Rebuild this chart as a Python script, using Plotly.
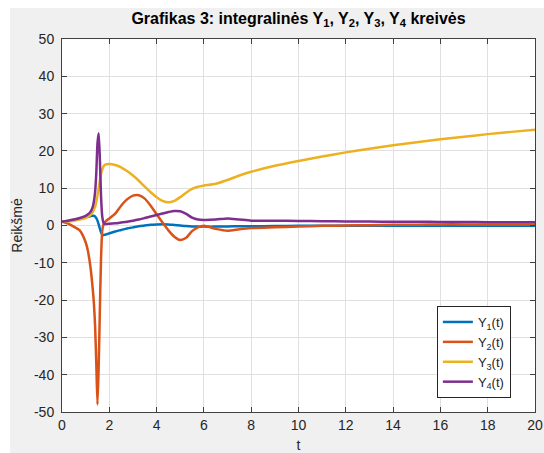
import plotly.graph_objects as go

# Simulation time points (denser around the transient near t = 1.5)
t = [0, 0.25, 0.5, 0.75, 1.0, 1.1, 1.2, 1.3, 1.35, 1.4, 1.45, 1.5, 1.55, 1.6,
     1.65, 1.7, 1.75, 1.8, 1.9, 2.0, 2.25, 2.5, 2.75, 3.0, 3.25, 3.5, 3.75,
     4.0, 4.25, 4.5, 4.75, 5.0, 5.25, 5.5, 5.75, 6.0, 6.5, 7.0, 7.5, 8, 9, 10,
     11, 12, 13, 14, 15, 16, 17, 18, 19, 20]

y1 = [1.0, 1.2, 1.5, 1.8, 2.2, 2.4, 2.5, 2.6, 2.6, 2.4, 2.0, 1.3, 0.3, -0.8,
      -1.8, -2.4, -2.6, -2.5, -2.3, -2.1, -1.6, -1.2, -0.8, -0.5, -0.2, 0.0, 0.2,
      0.3, 0.35, 0.3, 0.15, 0.0, -0.15, -0.25, -0.3, -0.3, -0.3, -0.25, -0.2, -0.2, -0.15, -0.1,
      -0.1, -0.1, -0.1, -0.1, -0.1, -0.1, -0.1, -0.1, -0.1, -0.1]

y2 = [1.0, 0.5, -0.3, -1.3, -4.5, -7.0, -11.0, -17.0, -21.0, -27.0, -37.0, -48.0, -38.0, -23.0,
      -9.0, -1.5, 0.2, 0.8, 1.4, 1.9, 3.2, 5.3, 7.0, 8.0, 8.1, 7.2, 5.3,
      3.0, 0.8, -1.3, -3.0, -3.9, -3.3, -1.5, -0.5, -0.1, -0.9, -1.4, -1.0, -0.7, -0.5, -0.3,
      -0.1, 0.0, 0.1, 0.2, 0.2, 0.3, 0.3, 0.3, 0.3, 0.3]

y3 = [1.0, 1.1, 1.3, 1.6, 2.0, 2.4, 2.8, 3.6, 4.3, 5.0, 6.3, 8.0, 10.0, 12.0,
      13.8, 15.0, 15.8, 16.2, 16.4, 16.5, 16.2, 15.6, 14.6, 13.4, 12.0, 10.4, 8.9,
      7.6, 6.6, 6.2, 6.6, 7.6, 8.8, 9.8, 10.4, 10.7, 11.2, 12.2, 13.4, 14.4, 16.0, 17.3,
      18.5, 19.6, 20.6, 21.5, 22.3, 23.1, 23.8, 24.5, 25.1, 25.7]

y4 = [1.0, 1.3, 1.6, 2.0, 2.6, 3.0, 3.6, 5.0, 6.5, 9.0, 14.0, 22.0, 24.7, 18.0,
      8.0, 2.5, 0.8, 0.4, 0.4, 0.5, 0.6, 0.8, 1.0, 1.3, 1.6, 2.0, 2.4,
      2.8, 3.2, 3.6, 3.9, 3.8, 3.1, 2.1, 1.6, 1.5, 1.6, 1.9, 1.6, 1.3, 1.3, 1.2,
      1.15, 1.1, 1.05, 1.0, 1.0, 0.95, 0.95, 0.9, 0.9, 0.9]

series_names = ["Y<sub>1</sub>(t)", "Y<sub>2</sub>(t)", "Y<sub>3</sub>(t)", "Y<sub>4</sub>(t)"]
series_colors = ["#0072BD", "#D95319", "#EDB120", "#7E2F8E"]

x_ticks = list(range(0, 21, 2))
x_tick_text = [str(v) for v in x_ticks]
y_ticks = list(range(-50, 51, 10))
y_tick_text = [str(v) for v in y_ticks]  # plain hyphen minus signs

font_family = "Liberation Sans, Arial, sans-serif"
axis_color = "#404040"
text_color = "#262626"

fig = go.Figure()
for name, color, ys in zip(series_names, series_colors, [y1, y2, y3, y4]):
    fig.add_trace(go.Scatter(
        x=t, y=ys, name=name, mode="lines",
        line=dict(color=color, width=2.5, shape="spline", smoothing=0.6),
    ))

axis_common = dict(
    showline=True, linecolor=axis_color, linewidth=1, mirror="ticks",
    ticks="inside", ticklen=5, tickcolor=axis_color, automargin=False,
    showgrid=True, gridcolor="#e0e0e0", gridwidth=1, zeroline=False,
    tickfont=dict(family=font_family, size=14, color=text_color),
)

fig.update_xaxes(
    range=[0, 20], tickvals=x_ticks, ticktext=x_tick_text,
    title=dict(text="t", font=dict(family=font_family, size=14, color=text_color), standoff=18),
    **axis_common,
)
fig.update_yaxes(
    range=[-50, 50], tickvals=y_ticks, ticktext=y_tick_text, ticklabelstandoff=4,
    title=dict(text="Reikšmė", font=dict(family=font_family, size=14, color=text_color), standoff=8),
    **axis_common,
)

fig.update_layout(
    width=544, height=453,
    margin=dict(l=62, r=9, t=39, b=41, autoexpand=False),
    paper_bgcolor="#f0f0f0",
    plot_bgcolor="#ffffff",
    font=dict(family=font_family, color=text_color),
    title=dict(
        text="<b>Grafikas 3: integralinės Y<sub>1</sub>, Y<sub>2</sub>, Y<sub>3</sub>, Y<sub>4</sub> kreivės</b>",
        font=dict(family=font_family, size=16, color="#000000"),
        x=0.5, xref="paper", xanchor="center",
        y=1 - 18 / 453, yref="container", yanchor="middle",
    ),
    legend=dict(
        x=0.949, y=0.0375, xanchor="right", yanchor="bottom",
        bgcolor="#ffffff", bordercolor="#262626", borderwidth=1,
        font=dict(family=font_family, size=13, color=text_color),
        tracegroupgap=0, itemwidth=30,
    ),
    showlegend=True,
    shapes=[
        # white strips along the left and top edges of the figure
        dict(type="rect", xref="paper", yref="paper",
             x0=-62 / 473, x1=-52 / 473, y0=-41 / 373, y1=(373 + 39) / 373,
             fillcolor="#ffffff", line=dict(width=0), layer="below"),
        dict(type="rect", xref="paper", yref="paper",
             x0=-62 / 473, x1=(473 + 9) / 473, y0=(373 + 31) / 373, y1=(373 + 39) / 373,
             fillcolor="#ffffff", line=dict(width=0), layer="below"),
    ],
)

fig.write_html("out.html")
